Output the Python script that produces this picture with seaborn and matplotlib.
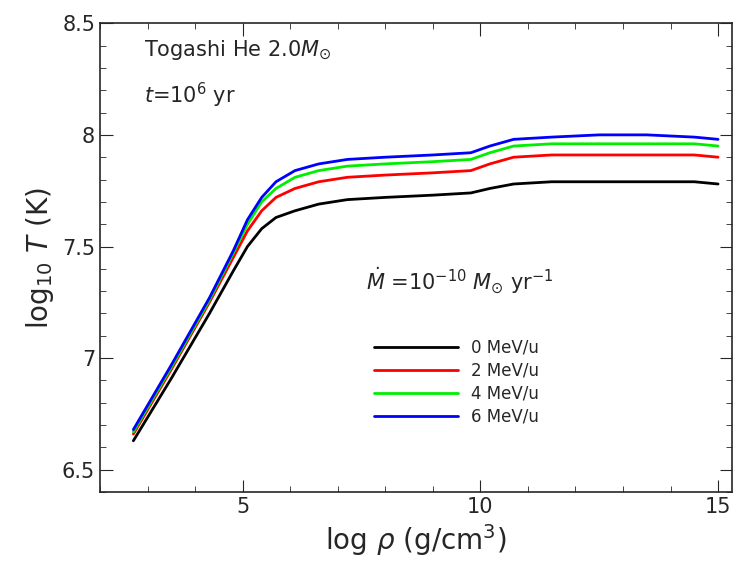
import numpy as np
import pandas as pd
import matplotlib
matplotlib.use("Agg")
import matplotlib.pyplot as plt
import seaborn as sns
from matplotlib.ticker import MultipleLocator

# log rho grid and log T for each heating value
log_rho = [2.7, 3.5, 4.3, 4.8, 5.1, 5.4, 5.7, 6.1, 6.6, 7.2, 8.0, 9.0, 9.8, 10.2, 10.7, 11.5, 12.5, 13.5, 14.5, 15.0]
t_0 = [6.63, 6.91, 7.20, 7.39, 7.50, 7.58, 7.63, 7.66, 7.69, 7.71, 7.72, 7.73, 7.74, 7.76, 7.78, 7.79, 7.79, 7.79, 7.79, 7.78]
t_2 = [6.66, 6.95, 7.25, 7.45, 7.57, 7.66, 7.72, 7.76, 7.79, 7.81, 7.82, 7.83, 7.84, 7.87, 7.90, 7.91, 7.91, 7.91, 7.91, 7.90]
t_4 = [6.67, 6.96, 7.26, 7.47, 7.60, 7.70, 7.76, 7.81, 7.84, 7.86, 7.87, 7.88, 7.89, 7.92, 7.95, 7.96, 7.96, 7.96, 7.96, 7.95]
t_6 = [6.68, 6.97, 7.27, 7.48, 7.62, 7.72, 7.79, 7.84, 7.87, 7.89, 7.90, 7.91, 7.92, 7.95, 7.98, 7.99, 8.00, 8.00, 7.99, 7.98]
labels = ["0 MeV/u", "2 MeV/u", "4 MeV/u", "6 MeV/u"]
colors = ["black", "red", "#00ee00", "blue"]

rows = []
for lab, ys in zip(labels, [t_0, t_2, t_4, t_6]):
    for x, y in zip(log_rho, ys):
        rows.append({"rho": x, "T": y, "heat": lab})
df = pd.DataFrame(rows)

sns.set_style("ticks")
fig, ax = plt.subplots(figsize=(7.36, 5.81), dpi=100)
fig.subplots_adjust(left=0.136, right=0.995, top=0.96, bottom=0.153)

sns.lineplot(data=df, x="rho", y="T", hue="heat", palette=colors, ax=ax, linewidth=2)

ax.set_xlim(2.0, 15.3)
ax.set_ylim(6.4, 8.5)
ax.xaxis.set_major_locator(MultipleLocator(5))
ax.xaxis.set_minor_locator(MultipleLocator(1))
ax.yaxis.set_major_locator(MultipleLocator(0.5))
ax.yaxis.set_minor_locator(MultipleLocator(0.1))
ax.yaxis.set_major_formatter(matplotlib.ticker.FuncFormatter(lambda v, p: f"{v:g}"))
ax.tick_params(which="both", direction="in", top=True, right=True, labelsize=15)
ax.tick_params(which="major", length=9)
ax.tick_params(which="minor", length=4)
for s in ax.spines.values():
    s.set_linewidth(1.2)

ax.set_xlabel(r"log $\rho$ (g/cm$^3$)", fontsize=20)
ax.set_ylabel(r"log$_{10}$ $T$ (K)", fontsize=20)

ax.text(0.07, 0.93, r"Togashi He 2.0$M_{\odot}$", transform=ax.transAxes, fontsize=15)
ax.text(0.07, 0.83, r"$t$=10$^6$ yr", transform=ax.transAxes, fontsize=15)
ax.text(0.42, 0.43, r"$\dot{M}$ =10$^{-10}$ $M_{\odot}$ yr$^{-1}$", transform=ax.transAxes, fontsize=15)

ax.legend(loc="lower left", bbox_to_anchor=(0.41, 0.11), frameon=False, fontsize=12,
          handlelength=5, labelspacing=0.3, title=None)

fig.savefig("out.png")
